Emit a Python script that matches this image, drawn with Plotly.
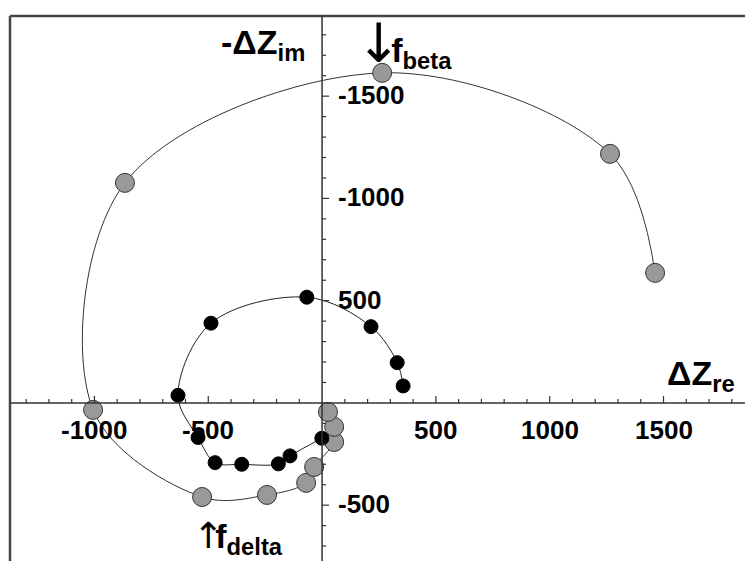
import plotly.graph_objects as go

# Impedance spiral, outer series (grey markers)
gray_re = [1463, 1265, 264, -866, -1006, -527, -242, -70, -35, 53, 53, 26]
gray_im = [636, 1218, 1614, 1076, -34, -460, -450, -391, -313, -191, -117, -44]

# Impedance spiral, inner series (black markers)
black_re = [356, 330, 215, -67, -488, -633, -545, -470, -353, -192, -141, -1]
black_im = [83, 197, 373, 517, 390, 37, -169, -292, -300, -298, -259, -173]

# Axis tick labels (as printed on the chart)
x_tick_vals = [-1000, -500, 500, 1000, 1500]
x_tick_text = ["-1000", "-500", "500", "1000", "1500"]
y_tick_vals = [1500, 1000, 500, -500]
y_tick_text = ["-1500", "-1000", "500", "-500"]

X_RANGE = [-1371, 1858]
Y_RANGE = [-773, 1892]
AXIS_COLOR = "#333333"
FONT = "Liberation Sans, Arial, sans-serif"

fig = go.Figure()

fig.add_trace(go.Scatter(
    x=gray_re, y=gray_im, mode="lines+markers",
    line=dict(color="#333333", width=1, shape="spline", smoothing=1.0),
    marker=dict(size=19, color="#999999", line=dict(color="#333333", width=1)),
    hoverinfo="x+y", showlegend=False,
))
fig.add_trace(go.Scatter(
    x=black_re, y=black_im, mode="lines+markers",
    line=dict(color="#222222", width=1, shape="spline", smoothing=1.0),
    marker=dict(size=14, color="#000000", line=dict(color="#000000", width=1)),
    hoverinfo="x+y", showlegend=False,
))

shapes = []
# frame (top and left edges)
shapes.append(dict(type="line", xref="paper", yref="paper", x0=0, x1=1, y0=1, y1=1,
                   line=dict(color="#444444", width=2.5)))
shapes.append(dict(type="line", xref="paper", yref="paper", x0=0, x1=0, y0=0, y1=1,
                   line=dict(color="#444444", width=2.5)))
# axes crossing at the origin
shapes.append(dict(type="line", xref="paper", yref="y", x0=0, x1=1, y0=0, y1=0,
                   line=dict(color=AXIS_COLOR, width=1.5)))
shapes.append(dict(type="line", xref="x", yref="paper", x0=0, x1=0, y0=0, y1=1,
                   line=dict(color=AXIS_COLOR, width=1.5)))

# tick marks every 100 units, longer on multiples of 500
for v in range(-1300, 1900, 100):
    if v == 0:
        continue
    ln = 7 if v % 500 == 0 else 4
    shapes.append(dict(type="line", xref="x", yref="y", ysizemode="pixel", yanchor=0,
                       x0=v, x1=v, y0=0, y1=ln, line=dict(color=AXIS_COLOR, width=1.2)))
for v in range(-700, 1900, 100):
    if v == 0:
        continue
    ln = 7 if v % 500 == 0 else 4
    shapes.append(dict(type="line", xref="x", yref="y", xsizemode="pixel", xanchor=0,
                       x0=0, x1=ln, y0=v, y1=v, line=dict(color=AXIS_COLOR, width=1.2)))

annotations = []
tick_font = dict(family=FONT, size=26, color="#000000")
for v, t in zip(x_tick_vals, x_tick_text):
    annotations.append(dict(x=v, y=0, xref="x", yref="y", text="<b>%s</b>" % t,
                            showarrow=False, xanchor="center", yanchor="middle", yshift=-27,
                            font=tick_font))
for v, t in zip(y_tick_vals, y_tick_text):
    annotations.append(dict(x=0, y=v, xref="x", yref="y", text="<b>%s</b>" % t,
                            showarrow=False, xanchor="left", yanchor="middle", xshift=14, yshift=1,
                            font=tick_font))

big = dict(family=FONT, size=34, color="#000000")
# arrow glyph set in DejaVu Sans, tightened against the following letter
arrow_style = "font-family:'DejaVu Sans';font-weight:normal;font-size:%dpx;letter-spacing:%dpx"
annotations += [
    dict(x=0.404, y=0.947, xref="paper", yref="paper", text="<b>-ΔZ<sub>im</sub></b>",
         showarrow=False, xanchor="right", yanchor="middle", font=big),
    dict(x=0.468, y=0.950, xref="paper", yref="paper",
         text="<span style=\"%s\">↓</span><b>f<sub>beta</sub></b>" % (arrow_style % (54, -10)),
         showarrow=False, xanchor="left", yanchor="middle", font=big),
    dict(x=0.989, y=0.341, xref="paper", yref="paper", text="<b>ΔZ<sub>re</sub></b>",
         showarrow=False, xanchor="right", yanchor="middle", font=big),
    dict(x=0.2466, y=0.044, xref="paper", yref="paper",
         text="<span style=\"%s\">↑</span><b>f<sub>delta</sub></b>" % (arrow_style % (36, -8)),
         showarrow=False, xanchor="left", yanchor="middle", font=big),
]

fig.update_layout(
    width=745, height=561,
    margin=dict(l=10, r=0, t=16, b=0),
    paper_bgcolor="white", plot_bgcolor="white",
    xaxis=dict(range=X_RANGE, visible=False, fixedrange=True),
    yaxis=dict(range=Y_RANGE, visible=False, fixedrange=True),
    shapes=shapes, annotations=annotations,
    font=dict(family=FONT),
)

fig.write_html("out.html")
